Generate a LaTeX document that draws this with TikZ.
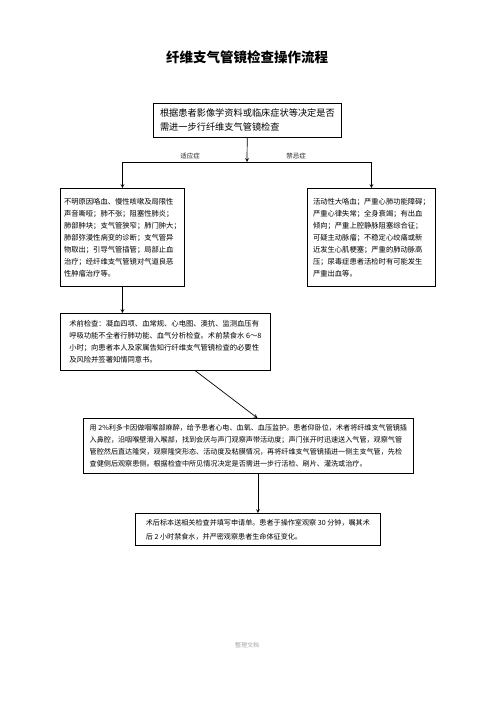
\documentclass[tikz,border=0pt]{standalone}
\usepackage{fontspec}
\setmainfont{Noto Sans CJK SC}
\usepackage{tikz}
\usetikzlibrary{shapes.geometric, arrows}
\tikzstyle{process} = [rectangle, anchor=north west, draw=black, line width=0.8pt, align=left, inner sep=3pt, font=\fontsize{7.3pt}{12pt}\selectfont]
\tikzstyle{branch} = [font=\fontsize{6.5pt}{7pt}\selectfont, text=black!85, inner sep=1.5pt]
\tikzstyle{arrow} = [line width=0.7pt,->,>=stealth]

\begin{document}
\begin{tikzpicture}[x=1pt, y=-1pt]
            \useasboundingbox (0,0) rectangle (496,702);

            \node (judul) at (247,57) [font=\fontsize{13.5pt}{16pt}\selectfont\bfseries] {纤维支气管镜检查操作流程};
            \node (dasar) at (153,103) [process, minimum width=188pt, minimum height=34pt, font=\fontsize{9.2pt}{14pt}\selectfont] {根据患者影像学资料或临床症状等决定是否\\需进一步行纤维支气管镜检查};
            \node (indikasi) at (60,188) [process, minimum width=124pt, minimum height=98pt] {不明原因咯血、慢性咳嗽及局限性\\声音嘶哑；肺不张；阻塞性肺炎；\\肺部肿块；支气管狭窄；肺门肿大；\\肺部弥漫性病变的诊断；支气管异\\物取出；引导气管插管；局部止血\\治疗；经纤维支气管镜对气道良恶\\性肿瘤治疗等。};
            \node (kontra) at (307,188) [process, minimum width=128pt, minimum height=98pt] {活动性大咯血；严重心肺功能障碍；\\严重心律失常；全身衰竭；有出血\\倾向；严重上腔静脉阻塞综合征；\\可疑主动脉瘤；不稳定心绞痛或新\\近发生心肌梗塞；严重的肺动脉高\\压；尿毒症患者活检时有可能发生\\严重出血等。};
            \node (persiapan) at (60,313) [process, minimum width=210pt, minimum height=57pt] {术前检查：凝血四项、血常规、心电图、澳抗、监测血压有\\呼吸功能不全者行肺功能、血气分析检查。术前禁食水 6～8\\小时；向患者本人及家属告知行纤维支气管镜检查的必要性\\及风险并签署知情同意书。};
            \node (tindakan) at (83,418) [process, minimum width=330pt, minimum height=55pt, font=\fontsize{7.1pt}{12pt}\selectfont] {用 2\%利多卡因做咽喉部麻醉，给予患者心电、血氧、血压监护。患者仰卧位，术者将纤维支气管镜插\\入鼻腔，沿咽喉壁滑入喉部，找到会厌与声门观察声带活动度；声门张开时迅速送入气管，观察气管\\管腔然后直达隆突，观察隆突形态、活动度及粘膜情况，再将纤维支气管镜插进一侧主支气管，先检\\查健侧后观察患侧。根据检查中所见情况决定是否需进一步行活检、刷片、灌洗或治疗。};
            \node (pasca) at (135,513) [process, minimum width=245pt, minimum height=32pt, font=\fontsize{7.1pt}{14pt}\selectfont] {术后标本送相关检查并填写申请单。患者于操作室观察 30 分钟，嘱其术\\后 2 小时禁食水，并严密观察患者生命体征变化。};
            \node (catatan) at (247,645) [font=\fontsize{6pt}{7pt}\selectfont, text=black!35] {整理文档};

            \coordinate (cabang) at (247,162);
            \node (label-indikasi) at (190,161) [branch, anchor=south] {适应症};
            \node (label-kontra) at (296,161) [branch, anchor=south] {禁忌症};

            \draw [arrow] (dasar) -- (cabang);
            \draw [arrow] (cabang) -| (indikasi);
            \draw [arrow] (cabang) -| (kontra);
            \draw [arrow] (indikasi.south) -- (indikasi.south |- persiapan.north);
            \draw [arrow] ([xshift=30pt]persiapan.south) -- ([xshift=9pt]tindakan.north);
            \draw [arrow] (tindakan.south -| pasca.north) -- (pasca.north);
        \end{tikzpicture}
\end{document}
